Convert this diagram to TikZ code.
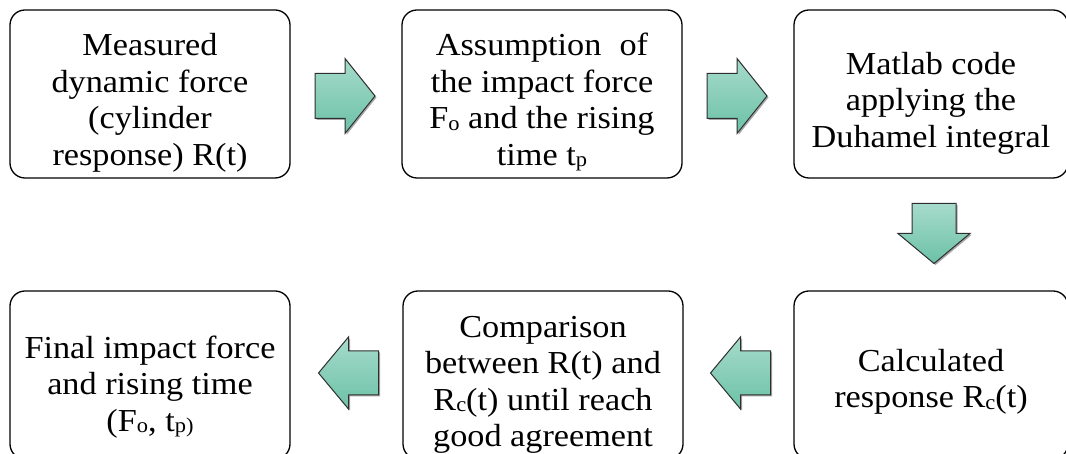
\documentclass[tikz,border=0pt]{standalone}
\usepackage{fontspec}
\setmainfont[FakeStretch=1.07]{Liberation Serif}
\usetikzlibrary{shadows,calc}
\definecolor{arrtop}{HTML}{A6DBCB}
\definecolor{arrbot}{HTML}{6CC1A7}
\definecolor{arredge}{HTML}{2E2E2E}
\newcommand{\sbs}[1]{\raisebox{-1.5pt}{\fontsize{21}{21}\selectfont #1}}
\begin{document}
\begin{tikzpicture}[x=1pt,y=1pt,
  box/.style={draw=black, line width=1.3pt, rounded corners=15pt,
    minimum width=280pt, minimum height=168pt, inner sep=0pt},
  txt/.style={align=center, font=\fontsize{32}{36.5}\selectfont, inner sep=0pt},
  blockarr/.style={draw=arredge, line width=1pt, line join=miter,
    top color=arrtop, bottom color=arrbot,
    drop shadow={shadow xshift=1.5pt, shadow yshift=-1.5pt, opacity=0.35, fill=black}}
]
\useasboundingbox (0,0) rectangle (1066,454);
\clip (0,0) rectangle (1066,454);

% boxes
\node[box] (b1) at (150,360) {};
\node[box] (b2) at (542,360) {};
\node[box, minimum width=274pt] (b3) at (931,360) {};
\node[box] (b4) at (150,79) {};
\node[box] (b5) at (543,79) {};
\node[box, minimum width=274pt] (b6) at (931,79) {};

% texts
\node[txt] (t1) at ([yshift=-9pt]b1.center) {Measured\\dynamic force\\(cylinder\\response) R(t)};
\node[txt] (t2) at ([yshift=-8pt]b2.center) {Assumption\hspace{0.3em} of\\the impact force\\F\sbs{o} and the rising\\time t\sbs{p}};
\node[txt] (t3) at ([yshift=-9pt]b3.center) {Matlab code\\applying the\\Duhamel integral};
\node[txt] (t4) at ([yshift=-12pt]b4.center) {Final impact force\\and rising time\\(F\sbs{o}, t\sbs{p)}};
\node[txt] (t5) at ([yshift=-10pt]b5.center) {Comparison\\between R(t) and\\R\sbs{c}(t) until reach\\good agreement};
\node[txt] (t6) at ([yshift=-7pt]b6.center) {Calculated\\response R\sbs{c}(t)};

% arrow positions
\coordinate (a1) at ($(b1.east)!0.5!(b2.west)+(-1,-2)$);
\coordinate (a2) at ($(b2.east)!0.5!(b3.west)+(-1,-2)$);
\coordinate (a3) at ($(b3.south)!0.5!(b6.north)+(3,1)$);
\coordinate (a4) at ($(b5.east)!0.5!(b6.west)+(2,2)$);
\coordinate (a5) at ($(b4.east)!0.5!(b5.west)+(2,2)$);

% right arrows
\path[blockarr] (a1) ++(-30,22.5) -- ++(30,0) -- ++(0,15) -- ++(30,-37.5)
  -- ++(-30,-37.5) -- ++(0,15) -- ++(-30,0) -- cycle;
\path[blockarr] (a2) ++(-30,22.5) -- ++(30,0) -- ++(0,15) -- ++(30,-37.5)
  -- ++(-30,-37.5) -- ++(0,15) -- ++(-30,0) -- cycle;
% down arrow
\path[blockarr] (a3) ++(-22,30) -- ++(44,0) -- ++(0,-30) -- ++(14,0)
  -- ++(-36,-30) -- ++(-36,30) -- ++(14,0) -- cycle;
% left arrows
\path[blockarr] (a4) ++(30,22) -- ++(-30,0) -- ++(0,14) -- ++(-30,-36)
  -- ++(30,-36) -- ++(0,14) -- ++(30,0) -- cycle;
\path[blockarr] (a5) ++(30,22) -- ++(-30,0) -- ++(0,14) -- ++(-30,-36)
  -- ++(30,-36) -- ++(0,14) -- ++(30,0) -- cycle;
\end{tikzpicture}
\end{document}
